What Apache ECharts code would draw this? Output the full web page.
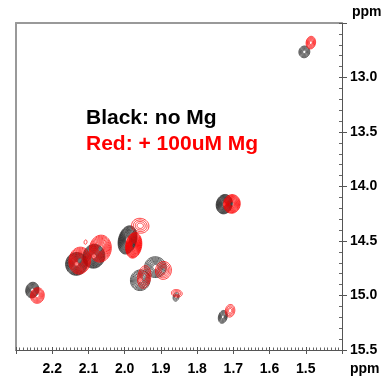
<!DOCTYPE html>
<html><head><meta charset="utf-8">
<script src="https://cdn.jsdelivr.net/npm/echarts@6/dist/echarts.min.js"></script>
<style>html,body{margin:0;padding:0;background:#fff}#c{width:391px;height:378px}</style>
</head><body><div id="c"></div>
<script>
// Axis tick labels (ppm)
const xTickLabels = [2.2, 2.1, 2.0, 1.9, 1.8, 1.7, 1.6, 1.5];
const yTickLabels = [13.0, 13.5, 14.0, 14.5, 15.0, 15.5];

// Black spectrum (no Mg): peak centres (ppm), half-widths (ppm), contour count
const blackX  = [1.504, 1.725, 1.729, 1.858, 1.915, 1.957, 1.992, 2.085, 2.133, 2.255];
const blackY  = [12.765, 14.162, 15.196, 15.013, 14.74, 14.86, 14.49, 14.64, 14.71, 14.95];
const blackHX = [0.015, 0.022, 0.012, 0.008, 0.030, 0.027, 0.025, 0.030, 0.030, 0.018];
const blackHY = [0.054, 0.090, 0.060, 0.040, 0.095, 0.095, 0.132, 0.110, 0.105, 0.072];
const blackLv = [6, 14, 6, 3, 8, 8, 16, 15, 15, 9];

// Red spectrum (+100uM Mg)
const redX  = [1.486, 1.704, 1.709, 1.856, 1.893, 1.946, 1.957, 1.975, 2.067, 2.124, 2.241, 2.108];
const redY  = [12.68, 14.16, 15.14, 14.98, 14.77, 14.83, 14.36, 14.54, 14.57, 14.68, 15.0, 14.51];
const redHX = [0.013, 0.023, 0.013, 0.015, 0.022, 0.018, 0.024, 0.022, 0.030, 0.030, 0.019, 0.004];
const redHY = [0.058, 0.086, 0.058, 0.034, 0.082, 0.104, 0.068, 0.118, 0.124, 0.124, 0.072, 0.020];
const redLv = [6, 12, 4, 3, 5, 5, 4, 15, 11, 11, 7, 1];

const FONT = '"Liberation Sans", Arial, Helvetica, sans-serif';

function rows(X, Y, HX, HY, L) {
  return X.map((x, i) => [x, Y[i], HX[i], HY[i], L[i]]);
}

function makeRender(color, tilt) {
  return function (params, api) {
    const c = api.coord([api.value(0), api.value(1)]);
    const s = api.size([api.value(2), api.value(3)]);
    const n = api.value(4);
    const children = [];
    for (let k = 0; k < n; k++) {
      const f = 1 - 0.85 * k / n;
      const rx = s[0] * f, ry = s[1] * f;
      const pts = [];
      for (let i = 0; i < 40; i++) {
        const t = i / 40 * 2 * Math.PI;
        const x = rx * Math.cos(t), y = ry * Math.sin(t);
        pts.push([c[0] + x * Math.cos(tilt) - y * Math.sin(tilt),
                  c[1] + x * Math.sin(tilt) + y * Math.cos(tilt)]);
      }
      children.push({ type: 'polygon', shape: { points: pts },
        style: { fill: 'none', stroke: color, lineWidth: 0.75 } });
    }
    return { type: 'group', children };
  };
}

const fmtX = v => { const s = (+v).toFixed(1); return xTickLabels.some(t => t.toFixed(1) === s) ? s : ''; };
const fmtY = v => { const s = (+v).toFixed(1); return yTickLabels.some(t => t.toFixed(1) === s) ? s : ''; };

const gridRect = { left: 16, right: 49, top: 23, bottom: 28 };
const labelStyle = { color: '#000', fontFamily: FONT, fontWeight: 'bold', fontSize: 14 };

const chart = echarts.init(document.getElementById('c'), null, { renderer: 'canvas' });
chart.setOption({
  animation: false,
  backgroundColor: '#fff',
  grid: [Object.assign({}, gridRect), Object.assign({}, gridRect)],
  xAxis: [
    { gridIndex: 0, type: 'value', position: 'bottom', min: 1.4, max: 2.3, interval: 0.1, inverse: true,
      axisLine: { show: true, lineStyle: { color: '#555', width: 1 } },
      axisTick: { show: true, inside: false, length: 4, lineStyle: { color: '#555' } },
      axisLabel: Object.assign({ margin: 12, formatter: fmtX }, labelStyle),
      splitLine: { show: false } },
    { gridIndex: 0, type: 'value', position: 'top', min: 1.4, max: 2.3, inverse: true,
      axisLine: { show: true, lineStyle: { color: '#999', width: 2 } },
      axisTick: { show: false }, axisLabel: { show: false }, splitLine: { show: false } },
    { gridIndex: 1, type: 'value', position: 'bottom', min: 1.4, max: 2.3, interval: 0.1, inverse: true,
      axisLine: { show: false },
      axisTick: { show: true, inside: true, length: 3, lineStyle: { color: '#555' } },
      minorTick: { show: true, splitNumber: 10, length: 2.5, lineStyle: { color: '#666' } },
      axisLabel: { show: false }, splitLine: { show: false } }
  ],
  yAxis: [
    { gridIndex: 0, type: 'value', position: 'right', min: 12.5, max: 15.5, interval: 0.5, inverse: true,
      axisLine: { show: true, lineStyle: { color: '#555', width: 1 } },
      axisTick: { show: true, inside: false, length: 5, lineStyle: { color: '#555' } },
      axisLabel: Object.assign({ margin: 8, formatter: fmtY }, labelStyle),
      splitLine: { show: false } },
    { gridIndex: 0, type: 'value', position: 'left', min: 12.5, max: 15.5, inverse: true,
      axisLine: { show: true, lineStyle: { color: '#999', width: 2 } },
      axisTick: { show: false }, axisLabel: { show: false }, splitLine: { show: false } },
    { gridIndex: 1, type: 'value', position: 'right', min: 12.5, max: 15.5, interval: 0.5, inverse: true,
      axisLine: { show: false },
      axisTick: { show: true, inside: true, length: 3, lineStyle: { color: '#555' } },
      minorTick: { show: true, splitNumber: 5, length: 3, lineStyle: { color: '#666' } },
      axisLabel: { show: false }, splitLine: { show: false } }
  ],
  series: [
    { type: 'custom', xAxisIndex: 0, yAxisIndex: 0, clip: true,
      encode: { x: 0, y: 1 }, renderItem: makeRender('#222', 0.25),
      data: rows(blackX, blackY, blackHX, blackHY, blackLv) },
    { type: 'custom', xAxisIndex: 0, yAxisIndex: 0, clip: true,
      encode: { x: 0, y: 1 }, renderItem: makeRender('#ff0000', 0.15),
      data: rows(redX, redY, redHX, redHY, redLv) }
  ],
  graphic: [
    { type: 'text', left: 352, top: 5, style: { text: 'ppm', fill: '#000', font: 'bold 14px ' + FONT } },
    { type: 'text', left: 350, top: 362, style: { text: 'ppm', fill: '#000', font: 'bold 14px ' + FONT } },
    { type: 'text', left: 86, top: 108, style: { text: 'Black: no Mg', fill: '#000', font: 'bold 21px ' + FONT } },
    { type: 'text', left: 86, top: 134, style: { text: 'Red: + 100uM Mg', fill: '#ff0000', font: 'bold 21px ' + FONT } }
  ]
});
</script></body></html>
